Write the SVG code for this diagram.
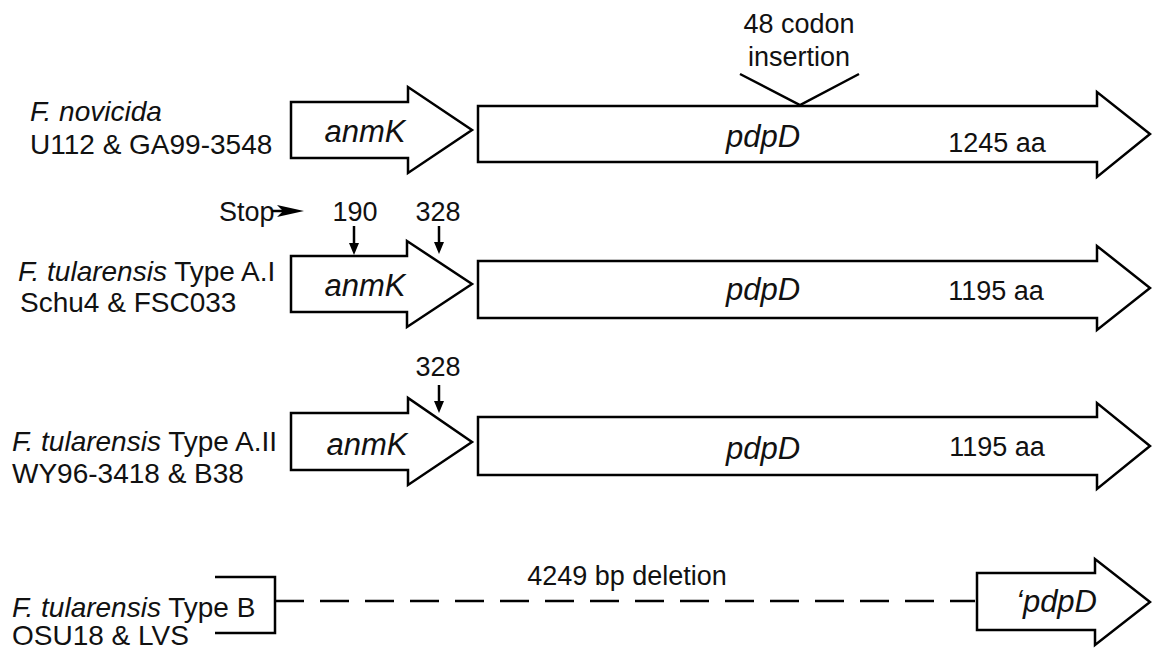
<svg xmlns="http://www.w3.org/2000/svg" width="1152" height="651" viewBox="0 0 1152 651">
<style>
.g{fill:#fff;stroke:#000;stroke-width:2.5;stroke-linejoin:miter}
.t{font-family:"Liberation Sans",Arial,sans-serif;font-size:27px;fill:#111}
.lb{font-size:28px}
.i{font-style:italic}
.gl{font-family:"Liberation Sans",Arial,sans-serif;font-size:31px;font-style:italic;fill:#111}
.ln{stroke:#000;stroke-width:2.5;fill:none}
.ah{fill:#000;stroke:none}
</style>
<rect width="1152" height="651" fill="#fff"/>

<g id="row1-label">
<text class="t lb i" x="30" y="121">F. novicida</text>
<text class="t lb" x="30" y="154">U112 &amp; GA99-3548</text>
</g>
<g id="row1-anmK">
<path class="g" d="M291,102 H408 V87 L472,130 L408,173 V158 H291 Z"/>
<text class="gl" x="365" y="142" text-anchor="middle">anmK</text>
</g>
<g id="row1-pdpD">
<path class="g" d="M478,106 H1097 V92 L1150,134 L1097,177 V162 H478 Z"/>
<text class="gl" x="763" y="147" text-anchor="middle">pdpD</text>
<text class="t" x="997" y="152" text-anchor="middle">1245 aa</text>
</g>
<g id="insertion">
<text class="t" x="799" y="33" text-anchor="middle">48 codon</text>
<text class="t" x="799" y="66" text-anchor="middle">insertion</text>
</g>

<g id="row2-label">
<text class="t lb" x="18" y="281"><tspan class="i">F. tularensis</tspan> Type A.I</text>
<text class="t lb" x="20" y="312">Schu4 &amp; FSC033</text>
</g>
<g id="row2-anmK">
<path class="g" d="M291,256 H407 V241 L472,284 L407,327 V312 H291 Z"/>
<text class="gl" x="365" y="296" text-anchor="middle">anmK</text>
</g>
<g id="row2-pdpD">
<path class="g" d="M478,261 H1097 V246 L1150,288 L1097,330 V318 H478 Z"/>
<text class="gl" x="763" y="300" text-anchor="middle">pdpD</text>
<text class="t" x="996" y="300" text-anchor="middle">1195 aa</text>
</g>
<g id="stop-marks">
<text class="t" x="219" y="221">Stop</text>
<text class="t" x="355" y="221" text-anchor="middle">190</text>
<text class="t" x="438" y="221" text-anchor="middle">328</text>
</g>

<g id="row3-label">
<text class="t lb" x="12" y="451"><tspan class="i">F. tularensis</tspan> Type A.II</text>
<text class="t lb" x="12" y="483">WY96-3418 &amp; B38</text>
</g>
<g id="row3-anmK">
<path class="g" d="M291,413 H408 V398 L472,442 L408,485 V470 H291 Z"/>
<text class="gl" x="367" y="455" text-anchor="middle">anmK</text>
</g>
<g id="row3-pdpD">
<path class="g" d="M478,417 H1097 V403 L1150,446 L1097,489 V475 H478 Z"/>
<text class="gl" x="763" y="459" text-anchor="middle">pdpD</text>
<text class="t" x="997" y="456" text-anchor="middle">1195 aa</text>
</g>
<g id="row3-mark">
<text class="t" x="438" y="376" text-anchor="middle">328</text>
</g>

<g id="row4-label">
<text class="t lb" x="12" y="617"><tspan class="i">F. tularensis</tspan> Type B</text>
<text class="t lb" x="12" y="645">OSU18 &amp; LVS</text>
</g>
<g id="row4-deletion">
<text class="t" x="627" y="585" text-anchor="middle">4249 bp deletion</text>
</g>
<g id="row4-pdpD">
<path class="g" d="M977,573 H1095 V559 L1150,602 L1095,645 V630 H977 Z"/>
<text class="gl" x="1016" y="612">‘pdpD</text>
</g>

<g id="connectors">
<polyline class="ln" points="740,74 800,105 859,74"/>
<path class="ln" d="M272,211 H285"/>
<polygon class="ah" points="277,205 304,211 277,217 283,211"/>
<path class="ln" d="M354,226 V245"/>
<polygon class="ah" points="349,243 359,243 354,255"/>
<path class="ln" d="M439,226 V244"/>
<polygon class="ah" points="434,242 444,242 439,254"/>
<path class="ln" d="M439,385 V403"/>
<polygon class="ah" points="434,401 444,401 439,413"/>
<polyline class="ln" points="215,577 275,577 275,633 215,633"/>
<path class="ln" d="M275,601 H975" stroke-dasharray="29,16"/>
</g>
</svg>
